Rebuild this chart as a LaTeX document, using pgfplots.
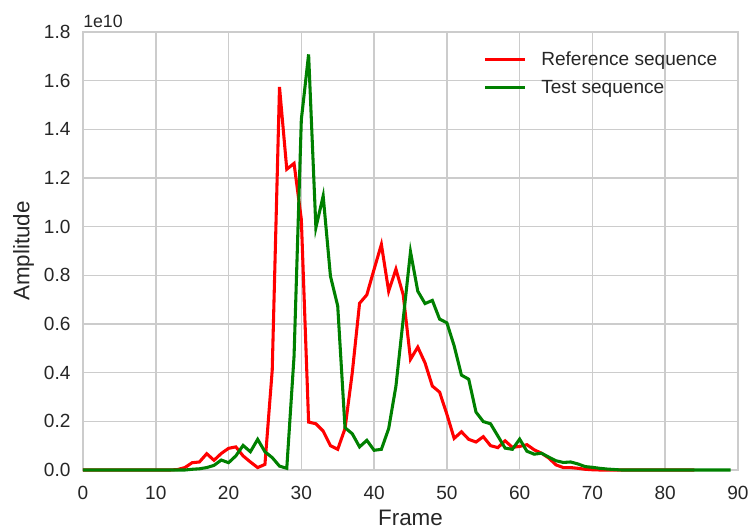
\documentclass[border=0pt]{standalone}
\usepackage{fontspec}
\setmainfont{Liberation Sans}
\usepackage{pgfplots}
\usepackage{pgfplotstable}
\pgfplotsset{compat=1.18}
\definecolor{gridgray}{RGB}{204,204,204}
\definecolor{txt}{RGB}{38,38,38}
\definecolor{sgreen}{RGB}{0,128,0}
\definecolor{sred}{RGB}{255,0,0}

\pgfplotstableread{
f v
0 0
1 0
2 0
3 0
4 0
5 0
6 0
7 0
8 0
9 0
10 0
11 0
12 0
13 0.002
14 0.01
15 0.03
16 0.033
17 0.067
18 0.04
19 0.068
20 0.089
21 0.095
22 0.058
23 0.033
24 0.01
25 0.023
26 0.41
27 1.574
28 1.236
29 1.26
30 1.03
31 0.197
32 0.19
33 0.16
34 0.10
35 0.085
36 0.17
37 0.40
38 0.685
39 0.72
40 0.825
41 0.927
42 0.735
43 0.825
44 0.72
45 0.455
46 0.505
47 0.44
48 0.345
49 0.32
50 0.229
51 0.13
52 0.157
53 0.126
54 0.115
55 0.137
56 0.10
57 0.092
58 0.12
59 0.093
60 0.097
61 0.104
62 0.083
63 0.069
64 0.049
65 0.021
66 0.01
67 0.01
68 0.007
69 0.003
70 0.001
71 0
72 0
73 0
74 0
75 0
76 0
77 0
78 0
79 0
80 0
81 0
82 0
83 0
84 0
}\refdata

\pgfplotstableread{
f v
0 0
1 0
2 0
3 0
4 0
5 0
6 0
7 0
8 0
9 0
10 0
11 0
12 0
13 0
14 0
15 0.003
16 0.005
17 0.01
18 0.019
19 0.041
20 0.03
21 0.058
22 0.101
23 0.075
24 0.126
25 0.075
26 0.051
27 0.016
28 0.007
29 0.468
30 1.44
31 1.708
32 0.996
33 1.126
34 0.797
35 0.674
36 0.174
37 0.149
38 0.095
39 0.122
40 0.081
41 0.085
42 0.17
43 0.345
44 0.62
45 0.897
46 0.735
47 0.684
48 0.697
49 0.62
50 0.605
51 0.51
52 0.39
53 0.373
54 0.238
55 0.199
56 0.19
57 0.14
58 0.09
59 0.085
60 0.127
61 0.077
62 0.065
63 0.069
64 0.053
65 0.038
66 0.031
67 0.033
68 0.025
69 0.014
70 0.011
71 0.007
72 0.004
73 0.002
74 0
75 0
76 0
77 0
78 0
79 0
80 0
81 0
82 0
83 0
84 0
85 0
86 0
87 0
88 0
89 0
}\testdata

\begin{document}
\begin{tikzpicture}
\useasboundingbox (-62.25pt,-44.25pt) rectangle (501.75pt,352.5pt);
\begin{axis}[
  at={(0,0)}, anchor=south west,
  scale only axis, width=491.25pt, height=328.5pt,
  xmin=0, xmax=90, ymin=0, ymax=1.8,
  xtick={0,10,20,30,40,50,60,70,80,90},
  ytick={0,0.2,0.4,0.6,0.8,1.0,1.2,1.4,1.6,1.8},
  /pgf/number format/assume math mode=true,
  tick label style={font=\fontsize{14.3}{16}\selectfont, text=txt, inner sep=0pt},
  xticklabel style={anchor=north, yshift=-12pt},
  yticklabel style={/pgf/number format/fixed, /pgf/number format/fixed zerofill, /pgf/number format/precision=1, anchor=east, xshift=-9.2pt},
  major tick length=0pt,
  tick style={draw=none},
  grid=major,
  major grid style={gridgray, line width=1.1pt},
  axis line style={gridgray, line width=1.1pt},
  xlabel={Frame}, ylabel={Amplitude},
  every axis x label/.style={at={(axis description cs:0.5,0)}, anchor=base, yshift=-41.6pt, font=\fontsize{16.8}{19}\selectfont, text=txt, inner sep=0pt},
  every axis y label/.style={at={(axis description cs:0,0.5)}, xshift=-40.3pt, rotate=90, anchor=base, font=\fontsize{16.8}{19}\selectfont, text=txt, inner sep=0pt},
  clip=false,
  legend cell align=left,
  legend style={at={(axis description cs:0.612,1)}, anchor=north west, yshift=-14.5pt,
    draw=none, fill=none, inner sep=0pt, outer sep=0pt,
    font=\fontsize{14.3}{16}\selectfont, text=txt,
    row sep=9.8pt, column sep=10.8pt,
    nodes={inner sep=0pt}},
  legend image code/.code={\draw[#1] (0pt,0pt) -- (30pt,0pt);},
]
\addplot[sred, line width=2.3pt] table[x=f, y=v] {\refdata};
\addlegendentry{Reference sequence}
\addplot[sgreen, line width=2.3pt] table[x=f, y=v] {\testdata};
\addlegendentry{Test sequence}
\node[anchor=south west, inner sep=0pt, font=\fontsize{13.3}{15}\selectfont, text=txt] at (axis description cs:0,1) [yshift=3.2pt] {1e10};
\end{axis}
\end{tikzpicture}
\end{document}
